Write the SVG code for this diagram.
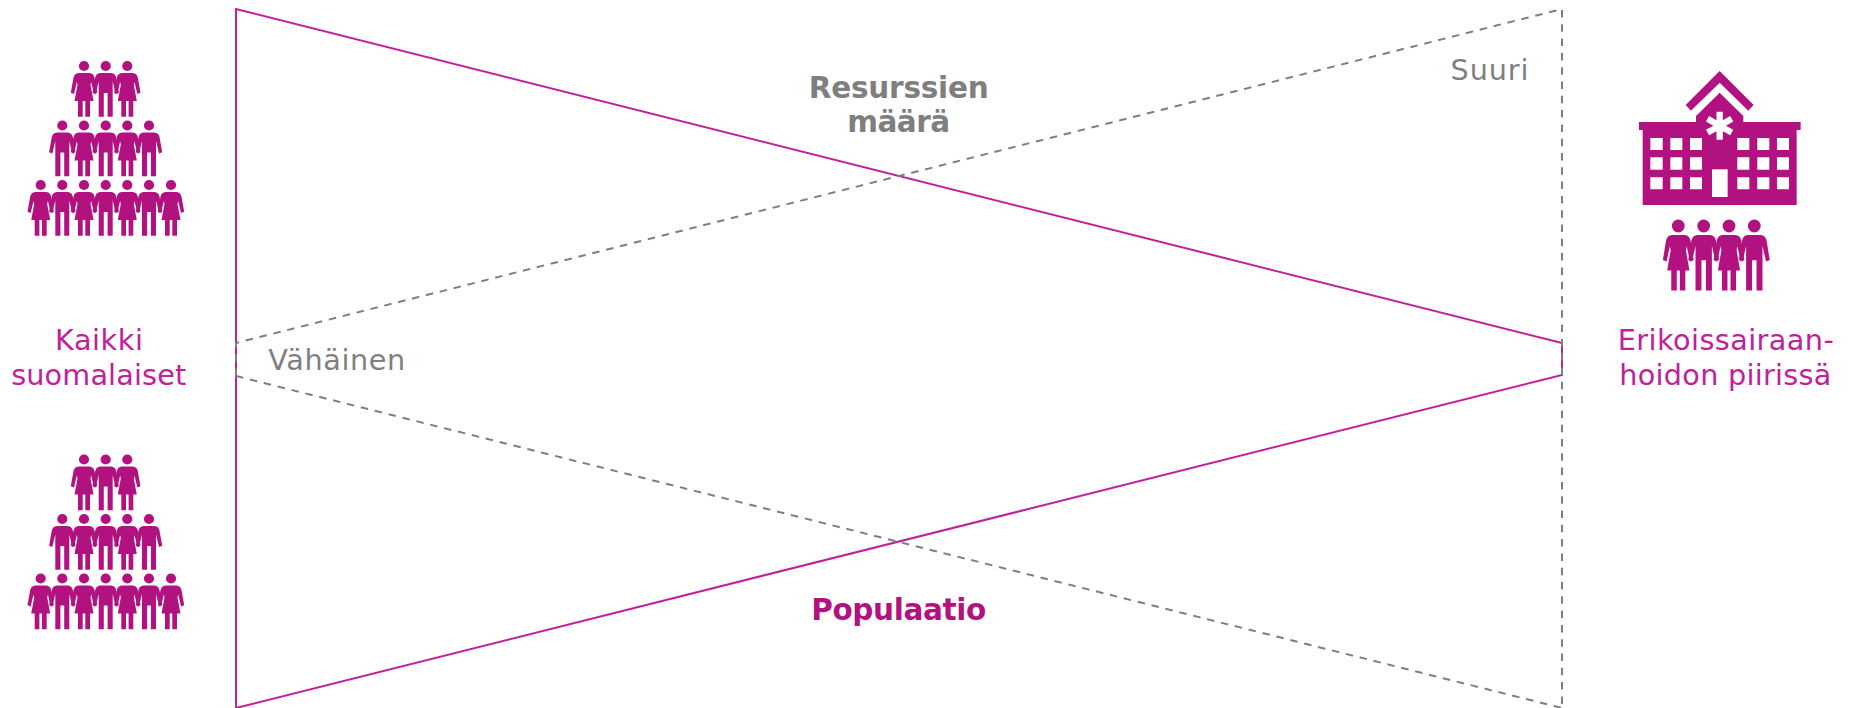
<svg xmlns="http://www.w3.org/2000/svg" width="1849" height="708" viewBox="0 0 1849 708">
<style>
text{font-family:"DejaVu Sans",Verdana,sans-serif;text-anchor:middle;font-size:28.7px}
.lab{fill:#c0219b}
.gr{fill:#7f7f7f}
.gb{font-weight:bold;font-size:29.5px;fill:#7f7f7f}
.mb{font-weight:bold;font-size:29.5px;fill:#b2127f}
.sol{fill:none;stroke:#c0219b;stroke-width:2}
.dash{fill:none;stroke:#7f7f7f;stroke-width:2;stroke-dasharray:7.5 6.8}
.ic{fill:#b2127f}
.win{fill:#fff}
</style>
<defs>
<path id="fb" d="M-5.5,7H5.5Q9.5,7.3 10.5,11.5L13.2,26.8 10,28 7.2,16 6.5,19 9.5,35H6V50.7H1.3V35H-1.3V50.7H-6V35H-9.5L-6.5,19 -7.2,16 -10,28 -13.2,26.8 -10.5,11.5Q-9.5,7.3 -5.5,7Z"/>
<path id="mb" d="M-5.5,7H5.5Q9.5,7.3 10.5,11.5L13.2,26.8 10,28 7,15.5V50.7H1.9V27H-1.9V50.7H-7V15.5L-10,28 -13.2,26.8 -10.5,11.5Q-9.5,7.3 -5.5,7Z"/>
<g id="f" class="ic"><circle r="5.1"/><use href="#fb"/></g>
<g id="m" class="ic"><circle r="5.1"/><use href="#mb"/></g>
<g id="crowd">
<use href="#f" x="84" y="66"/><use href="#m" x="105.7" y="66"/><use href="#f" x="127.3" y="66"/>
<use href="#m" x="62.3" y="125.5"/><use href="#f" x="84" y="125.5"/><use href="#m" x="105.7" y="125.5"/><use href="#f" x="127.3" y="125.5"/><use href="#m" x="149" y="125.5"/>
<use href="#f" x="40.7" y="185"/><use href="#m" x="62.3" y="185"/><use href="#f" x="84" y="185"/><use href="#m" x="105.7" y="185"/><use href="#f" x="127.3" y="185"/><use href="#m" x="149" y="185"/><use href="#f" x="171" y="185"/>
</g>
</defs>
<g id="connectors">
<path class="sol" d="M1562,343L236,9V708L1562,375V343"/>
<path class="dash" d="M236,376V343L1562,9V708"/>
<path class="dash" d="M236,376L1562,708"/>
</g>
<g id="crowd-top"><use href="#crowd"/></g>
<g id="crowd-bottom"><use href="#crowd" y="393.5"/></g>
<g id="hospital" transform="translate(1620,60) scale(.3333)">
<path class="ic" d="M197,135L299,33 401,135 385,152 299,68 213,152Z"/>
<path class="ic" d="M57,186H228V168L299,98 370,168V186H542V210H530V435H68V210H57Z"/>
<g class="win">
<path d="M91,234h37v36h-37zM151,234h36v36h-36zM210,234h36v36h-36zM352,234h36v36h-36zM412,234h36v36h-36zM471,234h36v36h-36z"/>
<path d="M91,292h37v37h-37zM151,292h36v37h-36zM210,292h36v37h-36zM352,292h36v37h-36zM412,292h36v37h-36zM471,292h36v37h-36z"/>
<path d="M91,352h37v36h-37zM151,352h36v36h-36zM210,352h36v36h-36zM352,352h36v36h-36zM412,352h36v36h-36zM471,352h36v36h-36z"/>
<path d="M276,328h47v83h-47z"/>
<path d="M289.5,155h19V180.5L330.6,168 340,184.5 318,197 340,209.5 330.6,226 308.5,213.5V239h-19V213.5L267.4,226 258,209.5 280,197 258,184.5 267.4,168 289.5,180.5Z"/>
</g>
</g>
<g id="hospital-people" class="ic">
<circle cx="1678.3" cy="226" r="6.4"/><circle cx="1703.7" cy="226" r="6.4"/><circle cx="1729" cy="226" r="6.4"/><circle cx="1754.3" cy="226" r="6.4"/>
<use href="#fb" transform="translate(1678.3,226) scale(1.17,1.27)"/><use href="#mb" transform="translate(1703.7,226) scale(1.17,1.27)"/><use href="#fb" transform="translate(1729,226) scale(1.17,1.27)"/><use href="#mb" transform="translate(1754.3,226) scale(1.17,1.27)"/>
</g>
<g id="labels">
<text class="lab" x="99" y="350.3" textLength="88">Kaikki</text>
<text class="lab" x="98.7" y="385.3" textLength="175">suomalaiset</text>
<text class="lab" x="1725.8" y="350.3" textLength="216">Erikoissairaan-</text>
<text class="lab" x="1725.3" y="385.3" textLength="212">hoidon piirissä</text>
<text class="gr" x="336.7" y="369.7" textLength="137">Vähäinen</text>
<text class="gr" x="1489.5" y="80.3" textLength="78">Suuri</text>
<text class="gb" x="898.7" y="97.5" textLength="180">Resurssien</text>
<text class="gb" x="898.7" y="132.3" textLength="103">määrä</text>
<text class="mb" x="898.7" y="619.5" textLength="175">Populaatio</text>
</g>
</svg>
